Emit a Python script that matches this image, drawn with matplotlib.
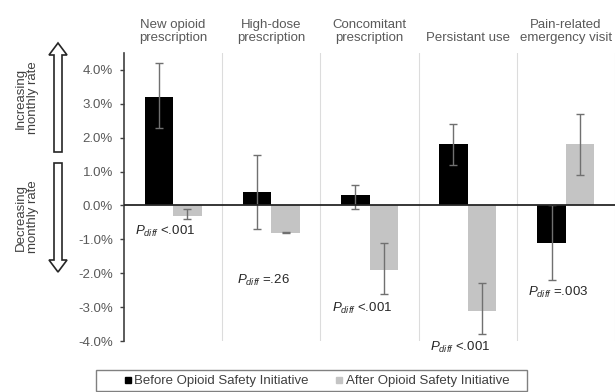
import numpy as np
import matplotlib
matplotlib.use("Agg")
from matplotlib import pyplot as plt
from matplotlib.patches import FancyArrow, Rectangle
from matplotlib.lines import Line2D
import matplotlib.transforms as mtransforms

plt.rcParams['font.family'] = ['Liberation Sans', 'DejaVu Sans']
plt.rcParams['mathtext.fontset'] = 'custom'
plt.rcParams['mathtext.rm'] = 'Liberation Sans'
plt.rcParams['mathtext.it'] = 'Liberation Sans:italic'

# monthly rate change (%) with 95% CI, before / after the initiative
outcomes = ['New opioid\nprescription', 'High-dose\nprescription',
            'Concomitant\nprescription', 'Persistant use',
            'Pain-related\nemergency visit']
before = np.array([3.2, 0.4, 0.3, 1.8, -1.1])
before_lo = np.array([2.3, -0.7, -0.1, 1.2, -2.2])
before_hi = np.array([4.2, 1.5, 0.6, 2.4, 0.0])
after = np.array([-0.3, -0.8, -1.9, -3.1, 1.8])
after_lo = np.array([-0.4, -0.82, -2.6, -3.8, 0.9])
after_hi = np.array([-0.1, -0.78, -1.1, -2.3, 2.7])
p_diff = ['<.001', '=.26', '<.001', '<.001', '=.003']
p_ypos = [-0.78, -2.2, -3.05, -4.2, -2.58]

fig = plt.figure(figsize=(6.16, 3.92), dpi=100)
ax = fig.add_axes([124 / 616, 51 / 392, 491 / 616, 288 / 392])

x = np.arange(len(outcomes))
w = 0.29
err_kw = dict(ecolor='#707070', elinewidth=1.0, capsize=3, capthick=1.0)
ax.bar(x - w / 2, before, w, color='black', zorder=2,
       yerr=[before - before_lo, before_hi - before], error_kw=err_kw)
ax.bar(x + w / 2, after, w, color='#c4c4c4', zorder=2,
       yerr=[after - after_lo, after_hi - after], error_kw=err_kw)

ax.axhline(0, color='#262626', lw=1.3, zorder=3)
for xs in np.arange(0.5, len(outcomes), 1.0):
    ax.axvline(xs, color='#dcdcdc', lw=0.8, zorder=1)

ax.set_xlim(-0.5, len(outcomes) - 0.5)
ax.set_ylim(-4.0, 4.5)
ax.set_yticks(np.arange(-4, 4.1, 1))
ax.set_yticklabels(['%.1f%%' % v for v in np.arange(-4, 4.1, 1)])
ax.tick_params(axis='y', colors='#404040', labelcolor='#595959',
               labelsize=9.5, length=3, width=1, pad=5)
ax.set_xticks([])
for s in ['top', 'right', 'bottom']:
    ax.spines[s].set_visible(False)
ax.spines['left'].set_color('#404040')
ax.spines['left'].set_linewidth(1.2)

trans = mtransforms.blended_transform_factory(ax.transData, ax.transAxes)
for i, name in enumerate(outcomes):
    ax.text(i, 1.03, name, transform=trans, ha='center', va='bottom',
            fontsize=9.5, color='#595959', linespacing=1.15)

for i, (p, yp) in enumerate(zip(p_diff, p_ypos)):
    ax.text(i - 0.08, yp, r'$P_{diff}$ ' + p, ha='center', va='center',
            fontsize=9.5, color='#262626', clip_on=False)

# direction arrows on the left, legend frame at the bottom
ov = fig.add_axes([0, 0, 1, 1], zorder=-1)
ov.set_xlim(0, 616)
ov.set_ylim(392, 0)
ov.axis('off')
ov.add_patch(FancyArrow(58, 152, 0, -109, width=8, head_width=18,
                        head_length=12, length_includes_head=True,
                        fc='white', ec='#262626', lw=1.2))
ov.add_patch(FancyArrow(58, 163, 0, 109, width=8, head_width=18,
                        head_length=12, length_includes_head=True,
                        fc='white', ec='#262626', lw=1.2))
ov.text(27, 98, 'Increasing\nmonthly rate', rotation=90, ha='center',
        va='center', fontsize=9.5, color='#404040', linespacing=1.1)
ov.text(27, 217, 'Decreasing\nmonthly rate', rotation=90, ha='center',
        va='center', fontsize=9.5, color='#404040', linespacing=1.1)
ov.add_patch(Rectangle((96, 370), 431, 21, fill=False, ec='#808080', lw=1.0))

handles = [Line2D([], [], ls='none', marker='s', ms=5, color='black'),
           Line2D([], [], ls='none', marker='s', ms=5, color='#c4c4c4')]
fig.legend(handles, ['Before Opioid Safety Initiative',
                     'After Opioid Safety Initiative'],
           loc='center', bbox_to_anchor=(316.5 / 616, 11 / 392), ncol=2,
           fontsize=9.5, frameon=False,
           handlelength=0.6, handletextpad=0.2, columnspacing=2.0,
           borderpad=0.3, labelcolor='#404040')

fig.savefig('out.png', dpi=100)
